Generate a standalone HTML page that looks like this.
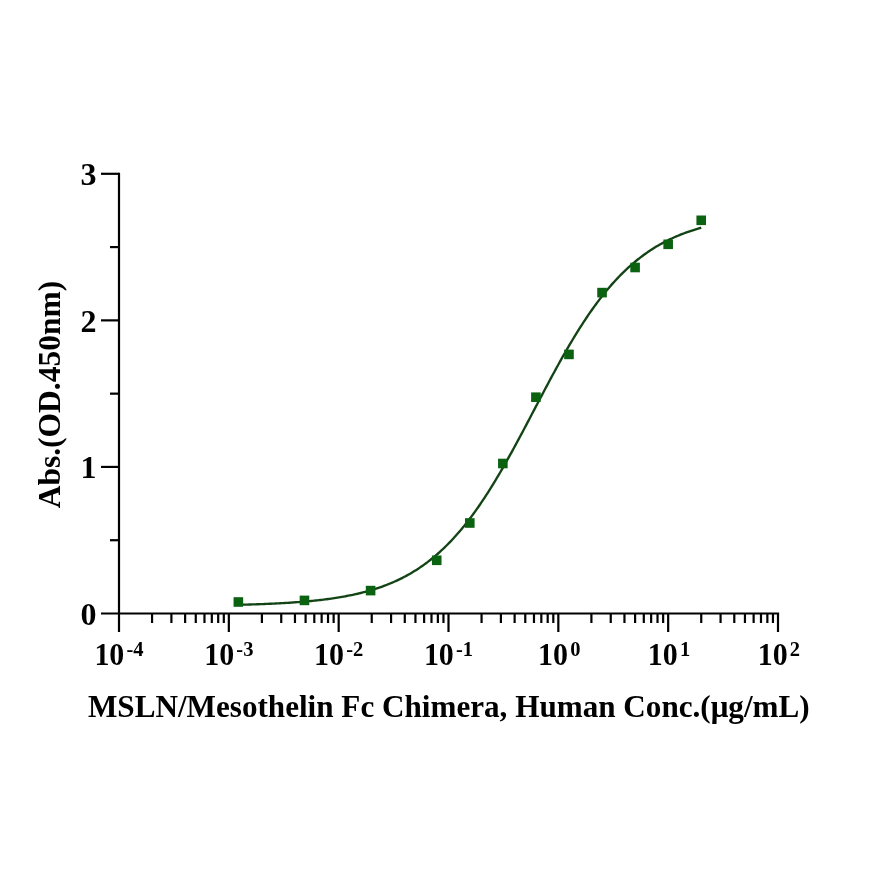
<!DOCTYPE html><html><head><meta charset="utf-8"><style>html,body{margin:0;padding:0;background:#fff}svg{display:block;will-change:transform}text{font-family:"Liberation Serif",serif;font-weight:bold;fill:#000}</style></head><body>
<svg width="870" height="870" viewBox="0 0 870 870">
<g stroke="#000" stroke-width="2.2" fill="none" stroke-linecap="butt">
<path d="M119.0 632.0V172.8"/>
<path d="M101 613.5H779.1"/>
<path d="M101 466.93H119.0"/>
<path d="M101 320.37H119.0"/>
<path d="M101 173.80H119.0"/>
<path d="M110 540.22H119.0"/>
<path d="M110 393.65H119.0"/>
<path d="M110 247.08H119.0"/>
<path d="M228.83 613.5V632.0"/>
<path d="M338.67 613.5V632.0"/>
<path d="M448.50 613.5V632.0"/>
<path d="M558.33 613.5V632.0"/>
<path d="M668.17 613.5V632.0"/>
<path d="M778.00 613.5V632.0"/>
<path d="M152.06 613.5V623.0"/>
<path d="M171.40 613.5V623.0"/>
<path d="M185.13 613.5V623.0"/>
<path d="M195.77 613.5V623.0"/>
<path d="M204.47 613.5V623.0"/>
<path d="M211.82 613.5V623.0"/>
<path d="M218.19 613.5V623.0"/>
<path d="M223.81 613.5V623.0"/>
<path d="M261.90 613.5V623.0"/>
<path d="M281.24 613.5V623.0"/>
<path d="M294.96 613.5V623.0"/>
<path d="M305.60 613.5V623.0"/>
<path d="M314.30 613.5V623.0"/>
<path d="M321.65 613.5V623.0"/>
<path d="M328.02 613.5V623.0"/>
<path d="M333.64 613.5V623.0"/>
<path d="M371.73 613.5V623.0"/>
<path d="M391.07 613.5V623.0"/>
<path d="M404.79 613.5V623.0"/>
<path d="M415.44 613.5V623.0"/>
<path d="M424.13 613.5V623.0"/>
<path d="M431.49 613.5V623.0"/>
<path d="M437.86 613.5V623.0"/>
<path d="M443.47 613.5V623.0"/>
<path d="M481.56 613.5V623.0"/>
<path d="M500.90 613.5V623.0"/>
<path d="M514.63 613.5V623.0"/>
<path d="M525.27 613.5V623.0"/>
<path d="M533.97 613.5V623.0"/>
<path d="M541.32 613.5V623.0"/>
<path d="M547.69 613.5V623.0"/>
<path d="M553.31 613.5V623.0"/>
<path d="M591.40 613.5V623.0"/>
<path d="M610.74 613.5V623.0"/>
<path d="M624.46 613.5V623.0"/>
<path d="M635.10 613.5V623.0"/>
<path d="M643.80 613.5V623.0"/>
<path d="M651.15 613.5V623.0"/>
<path d="M657.52 613.5V623.0"/>
<path d="M663.14 613.5V623.0"/>
<path d="M701.23 613.5V623.0"/>
<path d="M720.57 613.5V623.0"/>
<path d="M734.29 613.5V623.0"/>
<path d="M744.94 613.5V623.0"/>
<path d="M753.63 613.5V623.0"/>
<path d="M760.99 613.5V623.0"/>
<path d="M767.36 613.5V623.0"/>
<path d="M772.97 613.5V623.0"/>
</g>
<polyline points="238.35,604.82 239.89,604.78 241.44,604.74 242.99,604.70 244.54,604.66 246.09,604.61 247.63,604.57 249.18,604.53 250.73,604.48 252.28,604.43 253.83,604.38 255.38,604.33 256.92,604.28 258.47,604.22 260.02,604.16 261.57,604.11 263.12,604.05 264.66,603.99 266.21,603.92 267.76,603.86 269.31,603.79 270.86,603.72 272.40,603.65 273.95,603.58 275.50,603.50 277.05,603.42 278.60,603.34 280.14,603.26 281.69,603.17 283.24,603.09 284.79,603.00 286.34,602.90 287.89,602.81 289.43,602.71 290.98,602.61 292.53,602.50 294.08,602.39 295.63,602.28 297.17,602.17 298.72,602.05 300.27,601.93 301.82,601.80 303.37,601.68 304.91,601.54 306.46,601.41 308.01,601.27 309.56,601.12 311.11,600.97 312.66,600.82 314.20,600.66 315.75,600.50 317.30,600.33 318.85,600.16 320.40,599.98 321.94,599.80 323.49,599.61 325.04,599.41 326.59,599.22 328.14,599.01 329.68,598.80 331.23,598.58 332.78,598.36 334.33,598.13 335.88,597.89 337.42,597.65 338.97,597.39 340.52,597.14 342.07,596.87 343.62,596.60 345.17,596.31 346.71,596.02 348.26,595.72 349.81,595.42 351.36,595.10 352.91,594.78 354.45,594.44 356.00,594.10 357.55,593.75 359.10,593.38 360.65,593.01 362.19,592.62 363.74,592.23 365.29,591.82 366.84,591.40 368.39,590.97 369.94,590.53 371.48,590.07 373.03,589.61 374.58,589.13 376.13,588.63 377.68,588.13 379.22,587.60 380.77,587.07 382.32,586.52 383.87,585.95 385.42,585.37 386.96,584.77 388.51,584.16 390.06,583.53 391.61,582.88 393.16,582.22 394.70,581.54 396.25,580.84 397.80,580.12 399.35,579.38 400.90,578.62 402.45,577.85 403.99,577.05 405.54,576.23 407.09,575.39 408.64,574.53 410.19,573.65 411.73,572.74 413.28,571.82 414.83,570.86 416.38,569.89 417.93,568.89 419.47,567.87 421.02,566.82 422.57,565.74 424.12,564.64 425.67,563.52 427.21,562.36 428.76,561.18 430.31,559.98 431.86,558.74 433.41,557.47 434.96,556.18 436.50,554.86 438.05,553.50 439.60,552.12 441.15,550.71 442.70,549.26 444.24,547.79 445.79,546.28 447.34,544.74 448.89,543.17 450.44,541.57 451.98,539.93 453.53,538.26 455.08,536.56 456.63,534.83 458.18,533.06 459.73,531.25 461.27,529.42 462.82,527.55 464.37,525.64 465.92,523.70 467.47,521.73 469.01,519.72 470.56,517.68 472.11,515.61 473.66,513.50 475.21,511.36 476.75,509.18 478.30,506.97 479.85,504.73 481.40,502.45 482.95,500.14 484.49,497.80 486.04,495.43 487.59,493.03 489.14,490.59 490.69,488.13 492.24,485.63 493.78,483.11 495.33,480.55 496.88,477.97 498.43,475.37 499.98,472.73 501.52,470.07 503.07,467.39 504.62,464.68 506.17,461.95 507.72,459.20 509.26,456.42 510.81,453.63 512.36,450.82 513.91,447.99 515.46,445.14 517.01,442.28 518.55,439.40 520.10,436.51 521.65,433.61 523.20,430.69 524.75,427.77 526.29,424.84 527.84,421.90 529.39,418.96 530.94,416.01 532.49,413.06 534.03,410.11 535.58,407.16 537.13,404.21 538.68,401.26 540.23,398.31 541.77,395.37 543.32,392.44 544.87,389.51 546.42,386.59 547.97,383.69 549.52,380.79 551.06,377.91 552.61,375.04 554.16,372.19 555.71,369.35 557.26,366.53 558.80,363.73 560.35,360.94 561.90,358.18 563.45,355.44 565.00,352.72 566.54,350.03 568.09,347.36 569.64,344.71 571.19,342.09 572.74,339.50 574.29,336.94 575.83,334.40 577.38,331.90 578.93,329.42 580.48,326.97 582.03,324.55 583.57,322.17 585.12,319.81 586.67,317.49 588.22,315.20 589.77,312.95 591.31,310.72 592.86,308.53 594.41,306.37 595.96,304.25 597.51,302.16 599.05,300.11 600.60,298.09 602.15,296.10 603.70,294.14 605.25,292.23 606.80,290.34 608.34,288.49 609.89,286.67 611.44,284.89 612.99,283.14 614.54,281.42 616.08,279.74 617.63,278.09 619.18,276.47 620.73,274.89 622.28,273.34 623.82,271.82 625.37,270.33 626.92,268.87 628.47,267.45 630.02,266.05 631.57,264.68 633.11,263.35 634.66,262.04 636.21,260.77 637.76,259.52 639.31,258.30 640.85,257.10 642.40,255.94 643.95,254.80 645.50,253.69 647.05,252.61 648.59,251.55 650.14,250.51 651.69,249.50 653.24,248.52 654.79,247.56 656.33,246.62 657.88,245.71 659.43,244.81 660.98,243.94 662.53,243.10 664.08,242.27 665.62,241.46 667.17,240.68 668.72,239.91 670.27,239.17 671.82,238.44 673.36,237.73 674.91,237.04 676.46,236.37 678.01,235.72 679.56,235.08 681.10,234.46 682.65,233.86 684.20,233.27 685.75,232.70 687.30,232.14 688.84,231.60 690.39,231.07 691.94,230.56 693.49,230.06 695.04,229.57 696.59,229.10 698.13,228.64 699.68,228.19 701.23,227.75" fill="none" stroke="#134416" stroke-width="2.35" stroke-linejoin="round"/>
<rect x="233.55" y="597.20" width="9.6" height="9.6" fill="#0b6312"/>
<rect x="299.67" y="595.60" width="9.6" height="9.6" fill="#0b6312"/>
<rect x="365.80" y="585.80" width="9.6" height="9.6" fill="#0b6312"/>
<rect x="431.92" y="555.50" width="9.6" height="9.6" fill="#0b6312"/>
<rect x="464.99" y="518.20" width="9.6" height="9.6" fill="#0b6312"/>
<rect x="498.05" y="458.70" width="9.6" height="9.6" fill="#0b6312"/>
<rect x="531.11" y="392.40" width="9.6" height="9.6" fill="#0b6312"/>
<rect x="564.18" y="349.60" width="9.6" height="9.6" fill="#0b6312"/>
<rect x="597.24" y="287.80" width="9.6" height="9.6" fill="#0b6312"/>
<rect x="630.30" y="262.70" width="9.6" height="9.6" fill="#0b6312"/>
<rect x="663.37" y="239.50" width="9.6" height="9.6" fill="#0b6312"/>
<rect x="696.43" y="215.50" width="9.6" height="9.6" fill="#0b6312"/>
<text x="96.5" y="624.90" font-size="32" text-anchor="end">0</text>
<text x="96.5" y="478.33" font-size="32" text-anchor="end">1</text>
<text x="96.5" y="331.77" font-size="32" text-anchor="end">2</text>
<text x="96.5" y="185.20" font-size="32" text-anchor="end">3</text>
<text transform="translate(124.30 665) scale(0.965 1)" font-size="31" text-anchor="end">10</text>
<text x="126.50" y="656" font-size="20.5">-4</text>
<text transform="translate(234.13 665) scale(0.965 1)" font-size="31" text-anchor="end">10</text>
<text x="236.33" y="656" font-size="20.5">-3</text>
<text transform="translate(343.97 665) scale(0.965 1)" font-size="31" text-anchor="end">10</text>
<text x="346.17" y="656" font-size="20.5">-2</text>
<text transform="translate(453.80 665) scale(0.965 1)" font-size="31" text-anchor="end">10</text>
<text x="456.00" y="656" font-size="20.5">-1</text>
<text transform="translate(567.93 665) scale(0.965 1)" font-size="31" text-anchor="end">10</text>
<text x="570.13" y="656" font-size="20.5">0</text>
<text transform="translate(677.77 665) scale(0.965 1)" font-size="31" text-anchor="end">10</text>
<text x="679.97" y="656" font-size="20.5">1</text>
<text transform="translate(787.60 665) scale(0.965 1)" font-size="31" text-anchor="end">10</text>
<text x="789.80" y="656" font-size="20.5">2</text>
<text x="448.8" y="716.5" font-size="31.15" text-anchor="middle">MSLN/Mesothelin Fc Chimera, Human Conc.(μg/mL)</text>
<text transform="translate(59.5 394.6) rotate(-90)" font-size="31.5" text-anchor="middle">Abs.(OD.450nm)</text>
</svg></body></html>
